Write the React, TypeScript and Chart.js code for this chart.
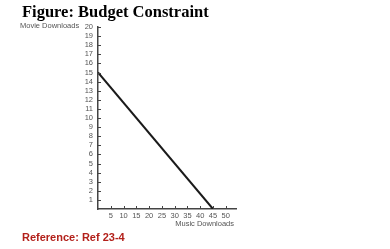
import React, { useEffect, useRef } from "react";
import { Chart, registerables } from "chart.js";

Chart.register(...registerables);

const titleText = "Figure: Budget Constraint";
const yAxisTitle = "Movie Downloads";
const xAxisTitle = "Music Downloads";
const referenceText = "Reference: Ref 23-4";

const xTickValues = [5, 10, 15, 20, 25, 30, 35, 40, 45, 50];
const yTickValues = [1, 2, 3, 4, 5, 6, 7, 8, 9, 10, 11, 12, 13, 14, 15, 16, 17, 18, 19, 20];

const musicDownloads = [0, 45];
const movieDownloads = [15, 0];

const AXIS_COLOR = "#444";
const LABEL_COLOR = "#555";
const FONT = "'Liberation Sans', Arial, sans-serif";

const innerTicks = {
  id: "innerTicks",
  afterDraw(chart: any) {
    const { ctx, chartArea, scales } = chart;
    ctx.save();
    ctx.strokeStyle = AXIS_COLOR;
    ctx.lineWidth = 1;
    ctx.beginPath();
    yTickValues.forEach((v) => {
      const py = Math.round(scales.y.getPixelForValue(v)) + 0.5;
      ctx.moveTo(chartArea.left, py);
      ctx.lineTo(chartArea.left + 3, py);
    });
    xTickValues.forEach((v) => {
      const px = Math.round(scales.x.getPixelForValue(v)) + 0.5;
      ctx.moveTo(px, chartArea.bottom);
      ctx.lineTo(px, chartArea.bottom - 3);
    });
    ctx.stroke();
    ctx.restore();
  },
};

export default function App() {
  const canvasRef = useRef<HTMLCanvasElement | null>(null);

  useEffect(() => {
    document.body.style.margin = "0";
    const canvas = canvasRef.current;
    if (!canvas) return;
    const chart = new Chart(canvas, {
      type: "scatter",
      data: {
        datasets: [
          {
            data: musicDownloads.map((x, i) => ({ x, y: movieDownloads[i] })),
            showLine: true,
            borderColor: "#1a1a1a",
            borderWidth: 2,
            pointRadius: 0,
            fill: false,
          },
        ],
      },
      options: {
        animation: false,
        responsive: false,
        maintainAspectRatio: false,
        layout: { padding: { top: 27, right: 154, left: 0, bottom: 0 } },
        plugins: { legend: { display: false }, tooltip: { enabled: false } },
        scales: {
          x: {
            type: "linear",
            min: 0,
            max: 54,
            afterBuildTicks: (scale: any) => {
              scale.ticks = xTickValues.map((v) => ({ value: v }));
            },
            afterFit: (scale: any) => {
              scale.height = 40;
            },
            grid: { display: true, drawOnChartArea: false, drawTicks: false },
            border: { display: true, color: AXIS_COLOR, width: 1.5 },
            ticks: {
              padding: 2,
              maxRotation: 0,
              autoSkip: false,
              color: LABEL_COLOR,
              font: { family: FONT, size: 7.5 },
            },
          },
          y: {
            type: "linear",
            min: 0,
            max: 20,
            afterBuildTicks: (scale: any) => {
              scale.ticks = yTickValues.map((v) => ({ value: v }));
            },
            afterFit: (scale: any) => {
              scale.width = 98;
            },
            grid: { display: true, drawOnChartArea: false, drawTicks: false },
            border: { display: true, color: AXIS_COLOR, width: 1.5 },
            ticks: {
              padding: 5,
              autoSkip: false,
              color: LABEL_COLOR,
              font: { family: FONT, size: 7.5 },
            },
          },
        },
      },
      plugins: [innerTicks],
    });
    return () => chart.destroy();
  }, []);

  return (
    <div style={{ position: "relative", width: 390, height: 249, background: "#fff", overflow: "hidden" }}>
      <canvas ref={canvasRef} width={390} height={249} style={{ position: "absolute", left: 0, top: 0 }} />
      <div
        style={{
          position: "absolute",
          left: 22,
          top: 2,
          fontFamily: "'Liberation Serif', 'Times New Roman', serif",
          fontWeight: "bold",
          fontSize: 16.5,
          color: "#000",
          whiteSpace: "nowrap",
        }}
      >
        {titleText}
      </div>
      <div
        style={{
          position: "absolute",
          left: 20,
          top: 21,
          fontFamily: FONT,
          fontSize: 7.5,
          color: LABEL_COLOR,
          whiteSpace: "nowrap",
        }}
      >
        {yAxisTitle}
      </div>
      <div
        style={{
          position: "absolute",
          right: 390 - 234,
          top: 219,
          fontFamily: FONT,
          fontSize: 7.5,
          color: LABEL_COLOR,
          whiteSpace: "nowrap",
        }}
      >
        {xAxisTitle}
      </div>
      <div
        style={{
          position: "absolute",
          left: 22,
          top: 231,
          fontFamily: FONT,
          fontWeight: "bold",
          fontSize: 11,
          color: "#b3211b",
          whiteSpace: "nowrap",
        }}
      >
        {referenceText}
      </div>
    </div>
  );
}
